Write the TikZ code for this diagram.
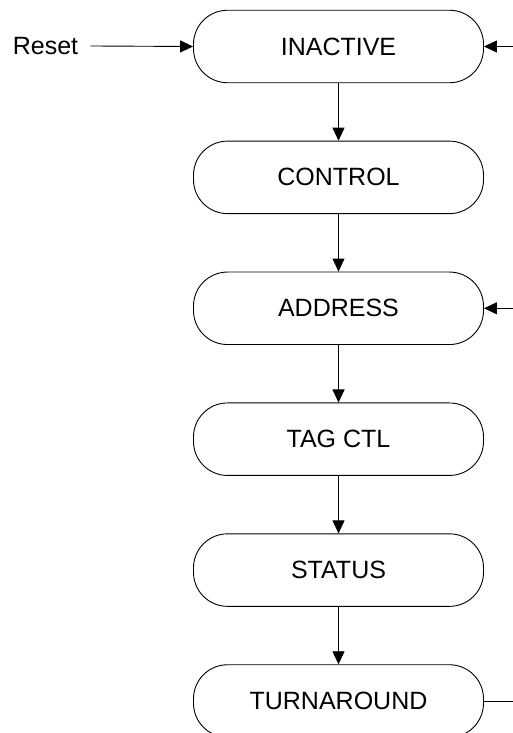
\documentclass[tikz,border=0pt]{standalone}
\usepackage{fontspec}
\setmainfont{Liberation Sans}
\usepackage{tikz}
\usetikzlibrary{arrows.meta,positioning}

\begin{document}
\begin{tikzpicture}[
  x=1pt,y=1pt,
  node distance=57.5pt,
  state/.style={draw,line width=0.9pt,rounded corners=34pt,minimum width=290pt,minimum height=72.5pt,inner sep=0pt,font=\fontsize{25}{30}\selectfont},
  arrow/.style={-{Triangle[length=13pt,width=12pt]},line width=0.9pt}
]
\useasboundingbox (0,0) rectangle (513,733);
\node[state] (inactive) at (338.5,686.5) {INACTIVE};
\node[state,below=of inactive] (control) {CONTROL};
\node[state,below=of control] (address) {ADDRESS};
\node[state,below=of address] (tagctl) {TAG CTL};
\node[state,below=of tagctl] (status) {STATUS};
\node[state,below=of status] (turnaround) {TURNAROUND};
\node[inner xsep=12pt,inner ysep=0pt,font=\fontsize{25}{30}\selectfont] (reset) at (45.5,687) {Reset};
\coordinate (back1) at (513,686.5);
\coordinate (back2) at (address.east -| 513,0);
\coordinate (leave) at (turnaround.east -| 513,0);
\draw[arrow] (reset.east)--(inactive.west);
\draw[arrow] (back1)--(inactive.east);
\draw[arrow] (inactive)--(control);
\draw[arrow] (control)--(address);
\draw[arrow] (back2)--(address.east);
\draw[arrow] (address)--(tagctl);
\draw[arrow] (tagctl)--(status);
\draw[arrow] (status)--(turnaround);
\draw[line width=0.9pt] (turnaround.east)--(leave);
\end{tikzpicture}
\end{document}
